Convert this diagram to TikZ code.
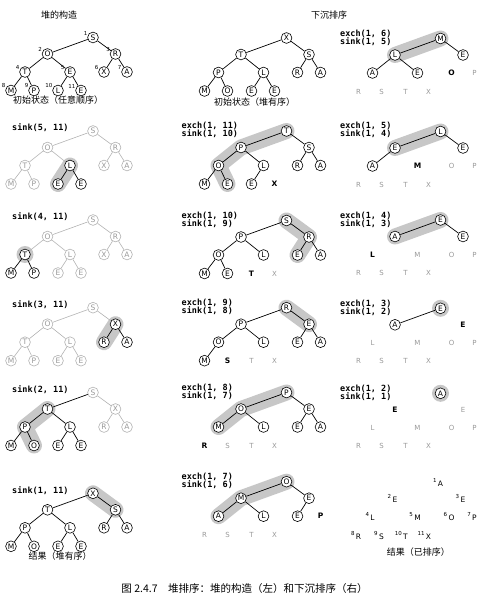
\documentclass[tikz,border=0pt]{standalone}
\usepackage{fontspec}
\setsansfont{DejaVu Sans}
\setmonofont{DejaVu Sans Mono}
\newfontfamily\cjk{Noto Sans CJK SC}

\pgfdeclarelayer{bandlayer}
\pgfdeclarelayer{linklayer}
\pgfsetlayers{bandlayer,linklayer,main}

% keys of an 11-slot heap, placed relative to the root slot
\newcommand{\heap}[4]{%
  \foreach \p/\dx/\dy in {1/0/0, 2/-45.5/16.5, 3/22.5/16.5, 4/-68/34.5, 5/-23/34.5, 6/11/34.5, 7/34/34.5, 8/-82/53, 9/-59/53, 10/-35/53, 11/-12/53}
    \coordinate (#1s\p) at ({#2+(\dx)}, {#3+(\dy)});
  \foreach \p/\k/\s in {#4}
    \node[\s] (#1\p) at (#1s\p) {\k};
}
% tree links, child/style (parent = child/2)
\newcommand{\links}[2]{%
  \begin{pgfonlayer}{linklayer}
    \foreach \c/\s in {#2} {
      \pgfmathtruncatemacro{\u}{\c/2}
      \draw[\s] (#1\u) -- (#1\c);
    }
  \end{pgfonlayer}
}
% gray band behind the sink path
\newcommand{\hilite}[1]{%
  \begin{pgfonlayer}{bandlayer}
    \draw[band] #1;
  \end{pgfonlayer}
}
\newcommand{\glowat}[1]{%
  \begin{pgfonlayer}{bandlayer}
    \fill[black!22] (#1) circle (8.5pt);
  \end{pgfonlayer}
}
\newcommand{\tightlines}{\lineskiplimit=-20pt\relax}

\begin{document}
\begin{tikzpicture}[x=1pt, y=-1pt,
    keyc/.style={circle, draw, line width=0.6pt, fill=white, minimum size=10.8pt, inner sep=0pt, font=\sffamily\fontsize{7.5}{7.5}\selectfont},
    fadec/.style={keyc, draw=black!30, text=black!40},
    outk/.style={inner sep=0pt, font=\sffamily\bfseries\fontsize{7.5}{7.5}\selectfont},
    donek/.style={inner sep=0pt, text=black!40, font=\sffamily\fontsize{7}{7}\selectfont},
    sortk/.style={inner sep=0pt, font=\sffamily\fontsize{7.5}{7.5}\selectfont},
    link/.style={line width=0.7pt},
    fadelink/.style={line width=0.6pt, black!30},
    band/.style={line width=16pt, line cap=round, line join=round, black!22},
    cmd/.style={inner sep=0pt, anchor=west, align=left, font=\ttfamily\bfseries\fontsize{8.5}{8}\selectfont\tightlines},
    head/.style={inner sep=0pt, font=\cjk\fontsize{9}{9}\selectfont},
    slotnum/.style={inner sep=0pt, font=\sffamily\fontsize{5.5}{5.5}\selectfont}
  ]
  \useasboundingbox (0,0) rectangle (490,612);

  % ---------------- heap construction (left) ----------------
  \node[head] (t-left) at (59,15) {堆的构造};

  % initial order
  \heap{a}{93}{37.5}{1/S/keyc, 2/O/keyc, 3/R/keyc, 4/T/keyc, 5/E/keyc, 6/X/keyc, 7/A/keyc, 8/M/keyc, 9/P/keyc, 10/L/keyc, 11/E/keyc}
  \links{a}{2/link, 3/link, 4/link, 5/link, 6/link, 7/link, 8/link, 9/link, 10/link, 11/link}
  \foreach \p in {1,...,11}
    \node[slotnum, anchor=east] at ([xshift=-5.5pt, yshift=4.5pt]a\p.center) {\p};
  \node[head] (cap-a) at (58,100.5) {初始状态（任意顺序）};

  % sink(5, 11)
  \node[cmd] (c-b) at (12,128) {sink(5, 11)};
  \heap{b}{93}{131}{1/S/fadec, 2/O/fadec, 3/R/fadec, 4/T/fadec, 5/L/keyc, 6/X/fadec, 7/A/fadec, 8/M/fadec, 9/P/fadec, 10/E/keyc, 11/E/keyc}
  \links{b}{2/fadelink, 3/fadelink, 4/fadelink, 5/fadelink, 6/fadelink, 7/fadelink, 8/fadelink, 9/fadelink, 10/link, 11/link}
  \hilite{(b5.center) -- (b10.center)}

  % sink(4, 11)
  \node[cmd] (c-c) at (12,217) {sink(4, 11)};
  \heap{c}{93}{220}{1/S/fadec, 2/O/fadec, 3/R/fadec, 4/T/keyc, 5/L/fadec, 6/X/fadec, 7/A/fadec, 8/M/keyc, 9/P/keyc, 10/E/fadec, 11/E/fadec}
  \links{c}{2/fadelink, 3/fadelink, 4/fadelink, 5/fadelink, 6/fadelink, 7/fadelink, 8/link, 9/link, 10/fadelink, 11/fadelink}
  \glowat{c4}

  % sink(3, 11)
  \node[cmd] (c-d) at (12,305) {sink(3, 11)};
  \heap{d}{93}{307.7}{1/S/fadec, 2/O/fadec, 3/X/keyc, 4/T/fadec, 5/L/fadec, 6/R/keyc, 7/A/keyc, 8/M/fadec, 9/P/fadec, 10/E/fadec, 11/E/fadec}
  \links{d}{2/fadelink, 3/fadelink, 4/fadelink, 5/fadelink, 6/link, 7/link, 8/fadelink, 9/fadelink, 10/fadelink, 11/fadelink}
  \hilite{(d3.center) -- (d6.center)}

  % sink(2, 11)
  \node[cmd] (c-e) at (12,390) {sink(2, 11)};
  \heap{e}{93}{392.5}{1/S/fadec, 2/T/keyc, 3/X/fadec, 4/P/keyc, 5/L/keyc, 6/R/fadec, 7/A/fadec, 8/M/keyc, 9/O/keyc, 10/E/keyc, 11/E/keyc}
  \links{e}{2/link, 3/fadelink, 4/link, 5/link, 6/fadelink, 7/fadelink, 8/link, 9/link, 10/link, 11/link}
  \hilite{(e2.center) -- (e4.center) -- (e9.center)}

  % sink(1, 11)
  \node[cmd] (c-f) at (12,491) {sink(1, 11)};
  \heap{f}{93}{493.3}{1/X/keyc, 2/T/keyc, 3/S/keyc, 4/P/keyc, 5/L/keyc, 6/R/keyc, 7/A/keyc, 8/M/keyc, 9/O/keyc, 10/E/keyc, 11/E/keyc}
  \links{f}{2/link, 3/link, 4/link, 5/link, 6/link, 7/link, 8/link, 9/link, 10/link, 11/link}
  \hilite{(f1.center) -- (f3.center)}
  \node[head] (cap-f) at (60,556) {结果（堆有序）};

  % ---------------- sortdown (middle) ----------------
  \node[head] (t-right) at (329,15) {下沉排序};

  % heap ordered
  \heap{g}{286.5}{38}{1/X/keyc, 2/T/keyc, 3/S/keyc, 4/P/keyc, 5/L/keyc, 6/R/keyc, 7/A/keyc, 8/M/keyc, 9/O/keyc, 10/E/keyc, 11/E/keyc}
  \links{g}{2/link, 3/link, 4/link, 5/link, 6/link, 7/link, 8/link, 9/link, 10/link, 11/link}
  \node[head] (cap-g) at (254.5,102) {初始状态（堆有序）};

  % exch(1, 11)
  \node[cmd] (c-h) at (181.5,130) {exch(1, 11)\\sink(1, 10)};
  \heap{h}{286.5}{131}{1/T/keyc, 2/P/keyc, 3/S/keyc, 4/O/keyc, 5/L/keyc, 6/R/keyc, 7/A/keyc, 8/M/keyc, 9/E/keyc, 10/E/keyc, 11/X/outk}
  \links{h}{2/link, 3/link, 4/link, 5/link, 6/link, 7/link, 8/link, 9/link, 10/link}
  \hilite{(h1.center) -- (h2.center) -- (h4.center) -- (h9.center)}

  % exch(1, 10)
  \node[cmd] (c-i) at (181.5,219.5) {exch(1, 10)\\sink(1, 9)};
  \heap{i}{286.5}{220.5}{1/S/keyc, 2/P/keyc, 3/R/keyc, 4/O/keyc, 5/L/keyc, 6/E/keyc, 7/A/keyc, 8/M/keyc, 9/E/keyc, 10/T/outk, 11/X/donek}
  \links{i}{2/link, 3/link, 4/link, 5/link, 6/link, 7/link, 8/link, 9/link}
  \hilite{(i1.center) -- (i3.center) -- (i6.center)}

  % exch(1, 9)
  \node[cmd] (c-j) at (181.5,307) {exch(1, 9)\\sink(1, 8)};
  \heap{j}{286.5}{307.7}{1/R/keyc, 2/P/keyc, 3/E/keyc, 4/O/keyc, 5/L/keyc, 6/E/keyc, 7/A/keyc, 8/M/keyc, 9/S/outk, 10/T/donek, 11/X/donek}
  \links{j}{2/link, 3/link, 4/link, 5/link, 6/link, 7/link, 8/link}
  \hilite{(j1.center) -- (j3.center)}

  % exch(1, 8)
  \node[cmd] (c-k) at (181.5,392) {exch(1, 8)\\sink(1, 7)};
  \heap{k}{286.5}{392.5}{1/P/keyc, 2/O/keyc, 3/E/keyc, 4/M/keyc, 5/L/keyc, 6/E/keyc, 7/A/keyc, 8/R/outk, 9/S/donek, 10/T/donek, 11/X/donek}
  \links{k}{2/link, 3/link, 4/link, 5/link, 6/link, 7/link}
  \hilite{(k1.center) -- (k2.center) -- (k4.center)}

  % exch(1, 7)
  \node[cmd] (c-l) at (181.5,481) {exch(1, 7)\\sink(1, 6)};
  \heap{l}{286.5}{481.7}{1/O/keyc, 2/M/keyc, 3/E/keyc, 4/A/keyc, 5/L/keyc, 6/E/keyc, 7/P/outk, 8/R/donek, 9/S/donek, 10/T/donek, 11/X/donek}
  \links{l}{2/link, 3/link, 4/link, 5/link, 6/link}
  \hilite{(l1.center) -- (l2.center) -- (l4.center)}

  % ---------------- sortdown (right) ----------------
  % exch(1, 6)
  \node[cmd] (c-m) at (340,37.5) {exch(1, 6)\\sink(1, 5)};
  \heap{m}{440.5}{38.5}{1/M/keyc, 2/L/keyc, 3/E/keyc, 4/A/keyc, 5/E/keyc, 6/O/outk, 7/P/donek, 8/R/donek, 9/S/donek, 10/T/donek, 11/X/donek}
  \links{m}{2/link, 3/link, 4/link, 5/link}
  \hilite{(m1.center) -- (m2.center)}

  % exch(1, 5)
  \node[cmd] (c-n) at (340,130) {exch(1, 5)\\sink(1, 4)};
  \heap{n}{440.5}{131.5}{1/L/keyc, 2/E/keyc, 3/E/keyc, 4/A/keyc, 5/M/outk, 6/O/donek, 7/P/donek, 8/R/donek, 9/S/donek, 10/T/donek, 11/X/donek}
  \links{n}{2/link, 3/link, 4/link}
  \hilite{(n1.center) -- (n2.center)}

  % exch(1, 4)
  \node[cmd] (c-o) at (340,220) {exch(1, 4)\\sink(1, 3)};
  \heap{o}{440.5}{220}{1/E/keyc, 2/A/keyc, 3/E/keyc, 4/L/outk, 5/M/donek, 6/O/donek, 7/P/donek, 8/R/donek, 9/S/donek, 10/T/donek, 11/X/donek}
  \links{o}{2/link, 3/link}
  \hilite{(o1.center) -- (o2.center)}

  % exch(1, 3)
  \node[cmd] (c-p) at (340,308) {exch(1, 3)\\sink(1, 2)};
  \heap{p}{440.5}{308.3}{1/E/keyc, 2/A/keyc, 3/E/outk, 4/L/donek, 5/M/donek, 6/O/donek, 7/P/donek, 8/R/donek, 9/S/donek, 10/T/donek, 11/X/donek}
  \links{p}{2/link}
  \glowat{p1}

  % exch(1, 2)
  \node[cmd] (c-q) at (340,393) {exch(1, 2)\\sink(1, 1)};
  \heap{q}{440.5}{393.3}{1/A/keyc, 2/E/outk, 3/E/donek, 4/L/donek, 5/M/donek, 6/O/donek, 7/P/donek, 8/R/donek, 9/S/donek, 10/T/donek, 11/X/donek}
  \glowat{q1}

  % sorted result
  \heap{r}{440.5}{483.3}{1/A/sortk, 2/E/sortk, 3/E/sortk, 4/L/sortk, 5/M/sortk, 6/O/sortk, 7/P/sortk, 8/R/sortk, 9/S/sortk, 10/T/sortk, 11/X/sortk}
  \foreach \p in {1,...,11}
    \node[slotnum, anchor=east] at ([xshift=-1pt, yshift=3pt]r\p.west) {\p};
  \node[head] (cap-r) at (418.3,552) {结果（已排序）};

  % figure caption
  \node[inner sep=0pt, font=\cjk\fontsize{10.5}{10.5}\selectfont] (fig) at (244.5,589) {图 2.4.7\quad 堆排序：堆的构造（左）和下沉排序（右）};
\end{tikzpicture}
\end{document}
